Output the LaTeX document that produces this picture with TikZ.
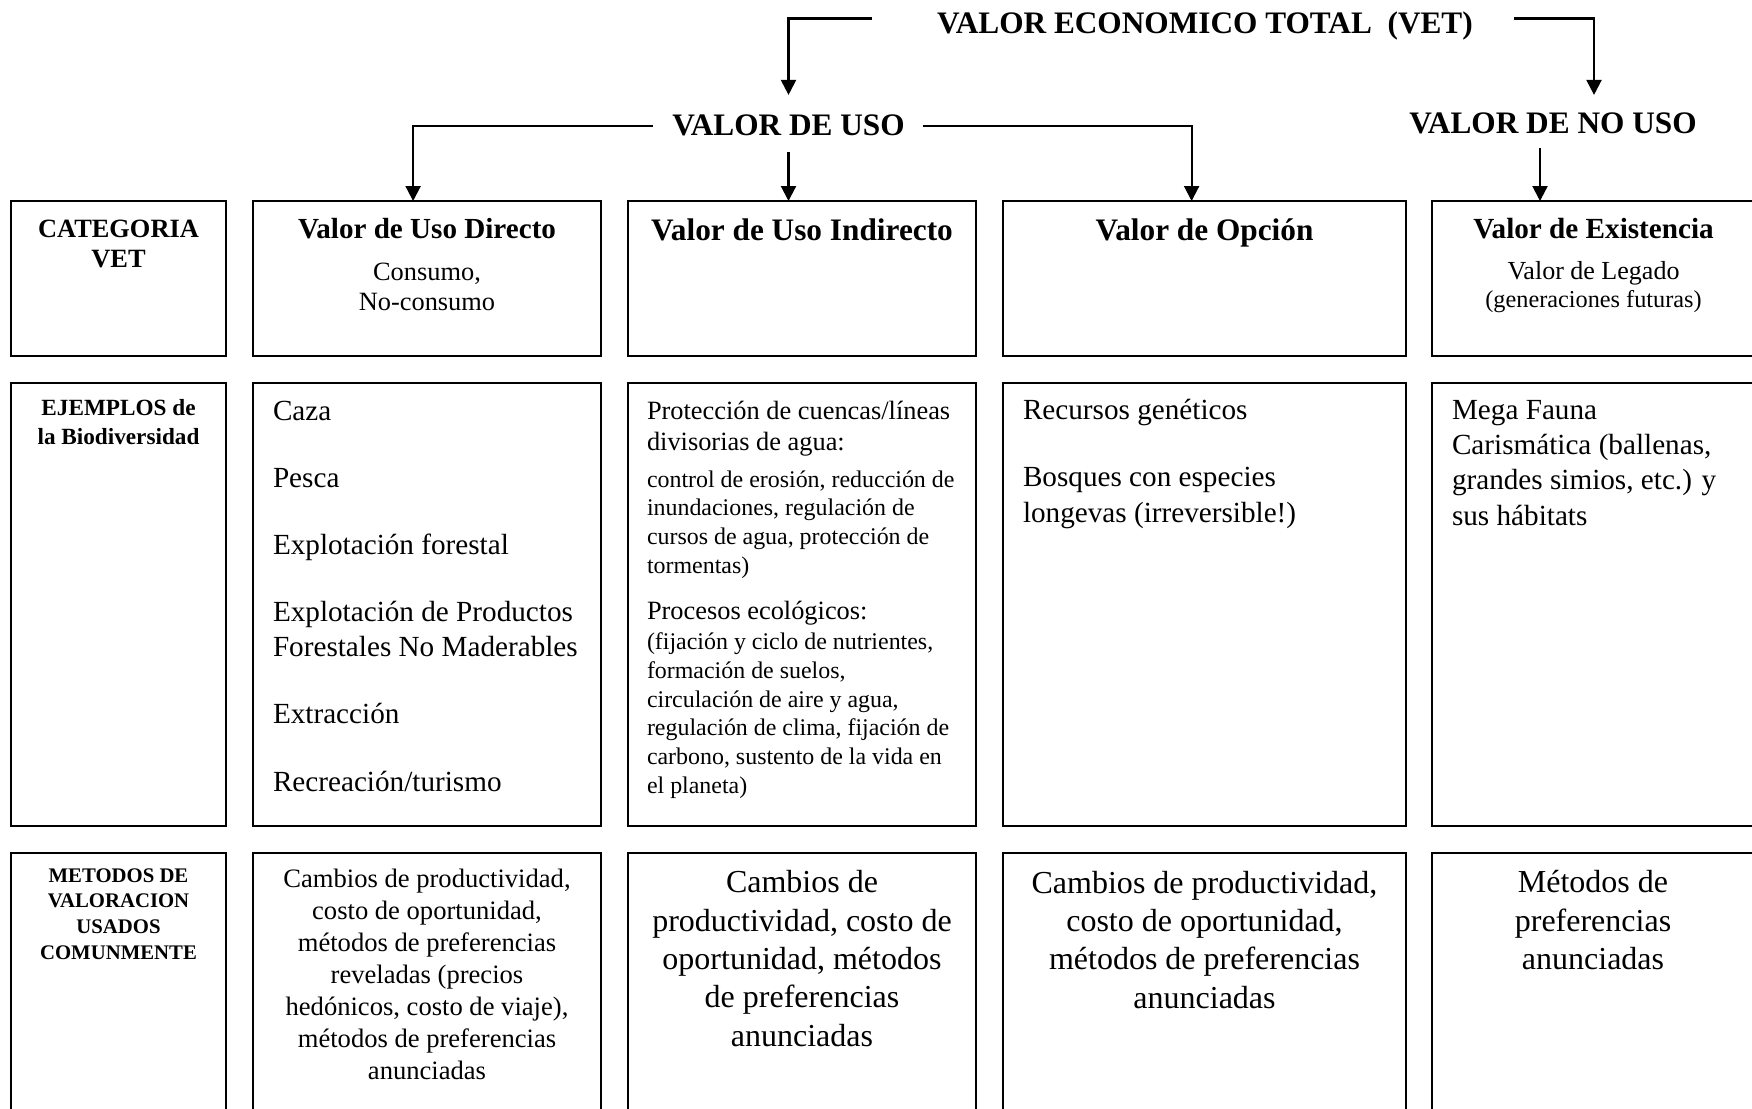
\documentclass[tikz,border=0pt]{standalone}
\usepackage{fontspec}
\setmainfont{Liberation Serif}
\usetikzlibrary{arrows.meta,positioning,calc}

\newcommand{\fsz}[2]{\fontsize{#1}{#2}\selectfont}

\tikzset{
  cell/.style={rectangle, draw=black, line width=0.6pt, inner sep=0pt,
    outer sep=0pt, anchor=north west, minimum width=#1},
  toprow/.style={minimum height=1.55cm},
  midrow/.style={minimum height=4.43cm},
  lowrow/.style={minimum height=2.8cm},
  head/.style={font=\bfseries\fsz{8.9}{10}, inner sep=0pt, outer sep=0pt,
    anchor=base, text height=6pt, text depth=0pt},
  % multi-line texts sit on the baseline of their last line
  ctext/.style={inner sep=0pt, outer sep=0pt, anchor=base, align=center},
  ltext/.style={inner sep=0pt, outer sep=0pt, anchor=base west, align=left},
  conn/.style={line width=0.6pt, -{Triangle[length=0.15cm, width=0.15cm]}},
}

\begin{document}
\begin{tikzpicture}[x=0.01cm, y=-0.01cm]
  \clip (0,0) rectangle (1752,1108);
  % headings
  \node[head] (vet) at (1205,33) {VALOR ECONOMICO TOTAL\ \ (VET)};
  \node[head] (uso) at (788.5,135) {VALOR DE USO};
  \node[head] (nouso) at (1553,133) {VALOR DE NO USO};

  % top row
  \node[cell=2.15cm, toprow] (cat) at (11,201) {};
  \node[cell=3.48cm, toprow] (dir) at (253,201) {};
  \node[cell=3.48cm, toprow] (ind) at (628,201) {};
  \node[cell=4.03cm, toprow] (opc) at (1003,201) {};
  \node[cell=3.30cm, toprow] (exi) at (1432,201) {};
  % middle row
  \node[cell=2.15cm, midrow] (ejm) at (11,383) {};
  \node[cell=3.48cm, midrow] (ejdir) at (253,383) {};
  \node[cell=3.48cm, midrow] (ejind) at (628,383) {};
  \node[cell=4.03cm, midrow] (ejopc) at (1003,383) {};
  \node[cell=3.30cm, midrow] (ejexi) at (1432,383) {};
  % bottom row
  \node[cell=2.15cm, lowrow] (met) at (11,853) {};
  \node[cell=3.48cm, lowrow] (mdir) at (253,853) {};
  \node[cell=3.48cm, lowrow] (mind) at (628,853) {};
  \node[cell=4.03cm, lowrow] (mopc) at (1003,853) {};
  \node[cell=3.30cm, lowrow] (mexi) at (1432,853) {};

  % top row texts
  \node[ctext, font=\bfseries\fsz{7.5}{8.5}] (catT) at (118.5,267) {CATEGORIA\\VET};
  \node[ctext, font=\bfseries\fsz{8.28}{10}] (dirT) at (427,238) {Valor de Uso Directo};
  \node[ctext, font=\fsz{7.5}{8.5}] (dirS) at (427,310) {Consumo,\\No-consumo};
  \node[ctext, font=\bfseries\fsz{8.9}{10}] (indT) at (802,240) {Valor de Uso Indirecto};
  \node[ctext, font=\bfseries\fsz{8.9}{10}] (opcT) at (1204.5,240) {Valor de Opción};
  \node[ctext, font=\bfseries\fsz{8.3}{10}] (exiT) at (1593.5,238) {Valor de Existencia};
  \node[ctext, font=\fsz{7.4}{9}] (exiS) at (1593.5,279) {Valor de Legado};
  \node[ctext, font=\fsz{6.9}{8}] (exiG) at (1593.5,307) {(generaciones futuras)};

  % middle row texts
  \node[ctext, font=\bfseries\fsz{6.6}{8.25}] (ejmT) at (118.5,444) {EJEMPLOS de\\la Biodiversidad};
  \node[ltext, font=\fsz{8.3}{9.96}] (ejdirT) at (273,791) {Caza\\[0.32cm]Pesca\\[0.32cm]Explotación forestal\\[0.32cm]Explotación de Productos\\Forestales No Maderables\\[0.32cm]Extracción\\[0.32cm]Recreación/turismo};
  \node[ltext, font=\fsz{7.5}{8.8}] (ejindA) at (647,450) {Protección de cuencas/líneas\\divisorias de agua:};
  \node[ltext, font=\fsz{6.8}{8.2}] (ejindB) at (647,573.5) {control de erosión, reducción de\\inundaciones, regulación de\\cursos de agua, protección de\\tormentas)};
  \node[ltext, font=\fsz{7.5}{8.8}] (ejindC) at (647,619) {Procesos ecológicos:};
  \node[ltext, font=\fsz{6.8}{8.15}] (ejindD) at (647,793) {(fijación y ciclo de nutrientes,\\formación de suelos,\\circulación de aire y agua,\\regulación de clima, fijación de\\carbono, sustento de la vida en\\el planeta)};
  \node[ltext, font=\fsz{8.3}{9.96}] (ejopcT) at (1023,522) {Recursos genéticos\\[0.32cm]Bosques con especies\\longevas (irreversible!)};
  \node[ltext, font=\fsz{8.3}{9.96}] (ejexiT) at (1452,525) {Mega Fauna\\Carismática (ballenas,\\grandes simios, etc.) y\\sus hábitats};

  % bottom row texts
  \node[ctext, font=\bfseries\fsz{5.9}{7.3}] (metT) at (118.5,959) {METODOS DE\\VALORACION\\USADOS\\COMUNMENTE};
  \node[ctext, font=\fsz{7.56}{9.1}] (mdirT) at (427,1079) {Cambios de productividad,\\costo de oportunidad,\\métodos de preferencias\\reveladas (precios\\hedónicos, costo de viaje),\\métodos de preferencias\\anunciadas};
  \node[ctext, font=\fsz{9.1}{10.9}] (mindT) at (802,1046) {Cambios de\\productividad, costo de\\oportunidad, métodos\\de preferencias\\anunciadas};
  \node[ctext, font=\fsz{9.1}{10.9}] (mopcT) at (1204.5,1008) {Cambios de productividad,\\costo de oportunidad,\\métodos de preferencias\\anunciadas};
  \node[ctext, font=\fsz{9.1}{10.9}] (mexiT) at (1593,969.6) {Métodos de\\preferencias\\anunciadas};

  % connectors
  \draw[conn] ($(vet.west)+(-65,-4)$) -| ($(uso.north)+(0,-19)$);
  \draw[conn] ($(vet.east)+(41,-4)$) -| ($(nouso.north)+(41,-17)$);
  \draw[conn] ($(uso.west)+(-19,1.5)$) -| ($(dir.north)+(-14,0)$);
  \draw[conn] ($(uso.south)+(0,17)$) -- (uso.south |- ind.north);
  \draw[conn] ($(uso.east)+(18,1.5)$) -| ($(opc.north)+(-13,0)$);
  \draw[conn] ($(nouso.south)+(-13,15)$) -- ($(nouso.south |- exi.north)+(-13,0)$);
\end{tikzpicture}
\end{document}
